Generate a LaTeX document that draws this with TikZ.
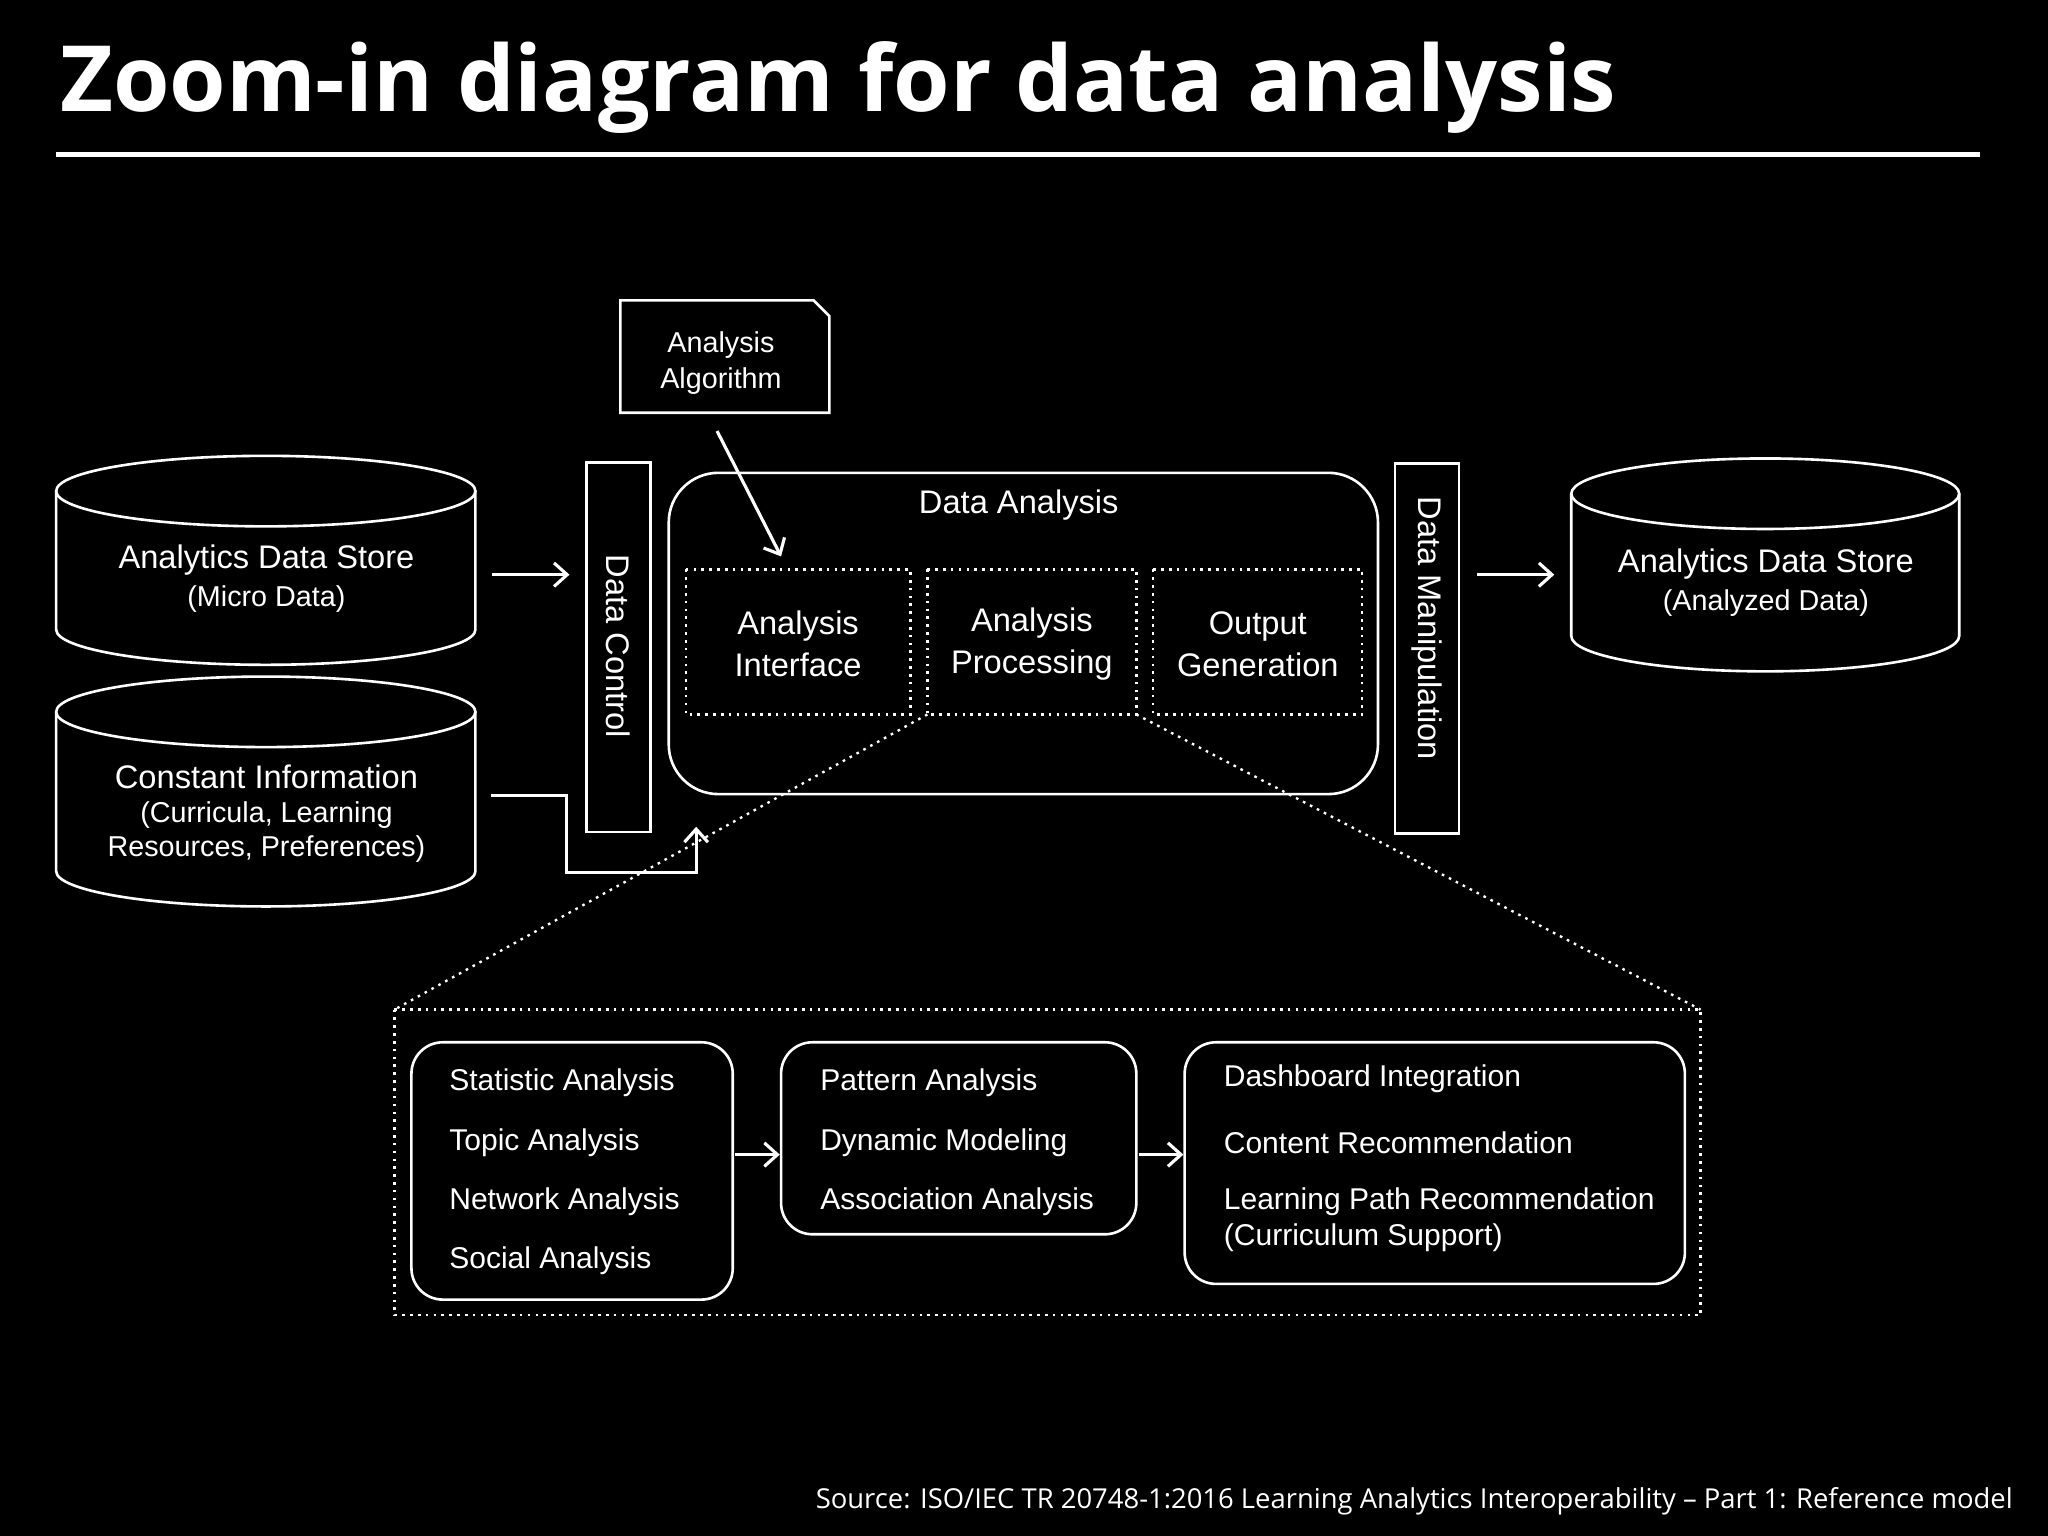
\documentclass[tikz,border=0pt]{standalone}
\usepackage{fontspec}
\setmainfont{Liberation Sans}
\newfontfamily\titlefont{Open Sans}
\usetikzlibrary{arrows.meta}
\begin{document}
\begin{tikzpicture}[x=0.5pt,y=-0.5pt,
  every path/.style={white, line width=1pt},
  lbl/.style={text=white, font=\fontsize{12.5}{14}\selectfont, align=center, inner sep=0},
  item/.style={text=white, font=\fontsize{11.5}{13}\selectfont, anchor=west, inner sep=0},
  dotbox/.style={draw=white, dotted, line width=0.9pt},
  arr/.style={-{Straight Barb[length=5pt,width=9pt]}, line width=1.2pt, white},
  rbox/.style={draw=white, rounded corners=12pt, line width=1pt}]
\fill[black] (0,0) rectangle (1568,1176);
\useasboundingbox (0,0) rectangle (1568,1176);
\node[anchor=base west, text=white, inner sep=0, font=\titlefont\bfseries\fontsize{35}{40}\selectfont] (title) at (45,85) {Zoom-in diagram for data analysis};
\draw[line width=2pt] (43,118) -- (1516,118);
% cylinders
\foreach \xa/\xb/\yt/\yb in {43/364/376/482, 43/364/545/667, 1203/1500/378/487}{
  \pgfmathsetmacro\cx{(\xa+\xb)/2}\pgfmathsetmacro\rx{(\xb-\xa)/2}
  \draw (\cx,\yt) ellipse [x radius=\rx, y radius=27];
  \draw (\xa,\yt) -- (\xa,\yb) arc[start angle=180,end angle=360,x radius=\rx,y radius=-27] -- (\xb,\yt);
}
\node[lbl] (s1) at (204,429) {Analytics Data Store};
\node[lbl, font=\fontsize{11}{13}\selectfont] (s1b) at (204,459) {(Micro Data)};
\node[lbl] (s2) at (204,595) {Constant Information};
\node[lbl, font=\fontsize{11}{13}\selectfont] (s2b) at (204,637) {(Curricula, Learning\\Resources, Preferences)};
\node[lbl] (s3) at (1352,432) {Analytics Data Store};
\node[lbl, font=\fontsize{11}{13}\selectfont] (s3b) at (1352,462) {(Analyzed Data)};
% bars
\draw (449,354) rectangle (498,637);
\node[lbl, rotate=-90] (dc) at (473.5,495) {Data Control};
\draw (1068,355) rectangle (1117,638);
\node[lbl, rotate=-90] (dm) at (1092.5,481) {Data Manipulation};
\coordinate (a1) at (377,440); \coordinate (a2) at (436,440);
\draw[arr] (a1) -- (a2);
\coordinate (a3) at (1131,440); \coordinate (a4) at (1190,440);
\draw[arr] (a3) -- (a4);
\coordinate (c1) at (376,609); \coordinate (c2) at (533,633);
\draw[arr] (c1) -- (434,609) -- (434,668) -- (533,668) -- (c2);
% data analysis
\draw[rounded corners=38pt/2] (512,362) rectangle (1055,608);
\draw (512,402) -- (512,402);
\node[lbl] (da) at (780,387) {Data Analysis};
\draw[dotbox] (525,436) rectangle (697,547);
\draw[dotbox] (710,436) rectangle (870,547);
\draw[dotbox] (883,436) rectangle (1043,547);
\node[lbl] (ai) at (611,493) {Analysis\\[2pt]Interface};
\node[lbl] (ap) at (790,493) {Analysis\\[2pt]Processing};
\node[lbl] (og) at (963,493) {Output\\[2pt]Generation};
% algorithm doc
\draw (475,230) -- (623,230) -- (635,242) -- (635,316) -- (475,316) -- cycle;
\node[lbl, font=\fontsize{11}{14}\selectfont] (alg) at (552,278) {Analysis\\Algorithm};
\coordinate (g1) at (549,330); \coordinate (g2) at (598,426);
\draw[arr] (g1) -- (g2);
% zoom
\draw[dotbox] (710,547) -- (302,773);
\draw[dotbox] (870,547) -- (1302,773);
\draw[dotbox] (302,773) rectangle (1302,1007);
\draw[rbox] (315,798) rectangle (561,995);
\draw[rbox] (598,798) rectangle (870,945);
\draw[rbox] (907,798) rectangle (1290,983);
\node[item] at (343,829) {Statistic Analysis};
\node[item] at (343,875) {Topic Analysis};
\node[item] at (343,920) {Network Analysis};
\node[item] at (343,965) {Social Analysis};
\node[item] at (627,829) {Pattern Analysis};
\node[item] at (627,875) {Dynamic Modeling};
\node[item] at (627,920) {Association Analysis};
\node[item] at (936,826) {Dashboard Integration};
\node[item] at (936,875) {Content Recommendation};
\node[item] at (936,920) {Learning Path Recommendation};
\node[item] at (936,948) {(Curriculum Support)};
\coordinate (b1) at (563,884); \coordinate (b2) at (597,884);
\draw[arr] (b1) -- (b2);
\coordinate (b3) at (872,884); \coordinate (b4) at (906,884);
\draw[arr] (b3) -- (b4);
\node[anchor=base east, text=white, inner sep=0, font=\titlefont\fontsize{10.5}{12}\selectfont] (src) at (1542,1155) {Source: ISO/IEC TR 20748-1:2016 Learning Analytics Interoperability – Part 1: Reference model};
\end{tikzpicture}
\end{document}
